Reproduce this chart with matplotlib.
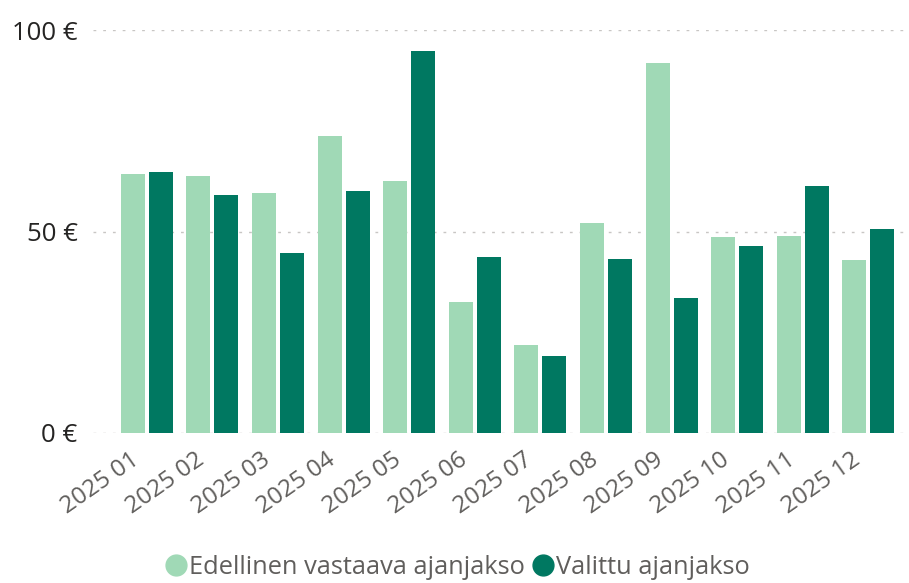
import numpy as np
import matplotlib.pyplot as plt
import matplotlib.transforms as mtransforms
from matplotlib.lines import Line2D

plt.rcParams['font.family'] = ['Open Sans', 'DejaVu Sans']

kuukaudet = ["2025 01", "2025 02", "2025 03", "2025 04", "2025 05", "2025 06",
             "2025 07", "2025 08", "2025 09", "2025 10", "2025 11", "2025 12"]
edellinen = [64.3, 63.8, 59.6, 73.7, 62.5, 32.5, 21.8, 52.1, 91.8, 48.6, 48.9, 42.9]
valittu = [64.8, 59.1, 44.7, 60.0, 94.8, 43.7, 19.1, 43.2, 33.5, 46.4, 61.3, 50.6]

vaalea = "#A0D9B6"
tumma = "#007861"
harmaa = "#605E5C"

fig = plt.figure(figsize=(9.09, 5.83), dpi=100)
ax = fig.add_axes([0.1023, 0.2573, 0.8977, 0.6912])

x = np.arange(len(kuukaudet))
w = 0.366
ax.bar(x - 0.213, edellinen, width=w, color=vaalea, zorder=2)
ax.bar(x + 0.213, valittu, width=w, color=tumma, zorder=2)

ax.set_xlim(-0.82, 11.62)
ax.set_ylim(0, 100)
ax.set_yticks([0, 50, 100])
ax.set_yticklabels(["0 €", "50 €", "100 €"])
ax.yaxis.grid(True, color="#C8C6C4", linestyle=(0, (2, 5)), linewidth=1, zorder=1)
ax.set_axisbelow(True)

for s in ax.spines.values():
    s.set_visible(False)
ax.tick_params(axis="both", length=0)
ax.tick_params(axis="x", pad=11, labelsize=17.5, colors=harmaa)
ax.tick_params(axis="y", pad=11, labelsize=18.5, colors="#252423")

# kuukausien nimet hieman vasemmalle, kuten alkuperäisessä
ax.set_xticks(x)
ax.set_xticklabels(kuukaudet, rotation=35, ha="right", va="top", rotation_mode="anchor")
siirto = mtransforms.ScaledTranslation(-17 / 100, 0, fig.dpi_scale_trans)
for t in ax.get_xticklabels():
    t.set_transform(t.get_transform() + siirto)

kahvat = [Line2D([], [], marker="o", linestyle="", markersize=15, color=vaalea),
          Line2D([], [], marker="o", linestyle="", markersize=15, color=tumma)]
fig.legend(kahvat, ["Edellinen vastaava ajanjakso", "Valittu ajanjakso"],
           loc="center", bbox_to_anchor=(0.495, 0.026), ncol=2, frameon=False,
           fontsize=18.3, labelcolor=harmaa, handletextpad=-0.5, columnspacing=-0.28)

fig.savefig("out.png", dpi=100)
